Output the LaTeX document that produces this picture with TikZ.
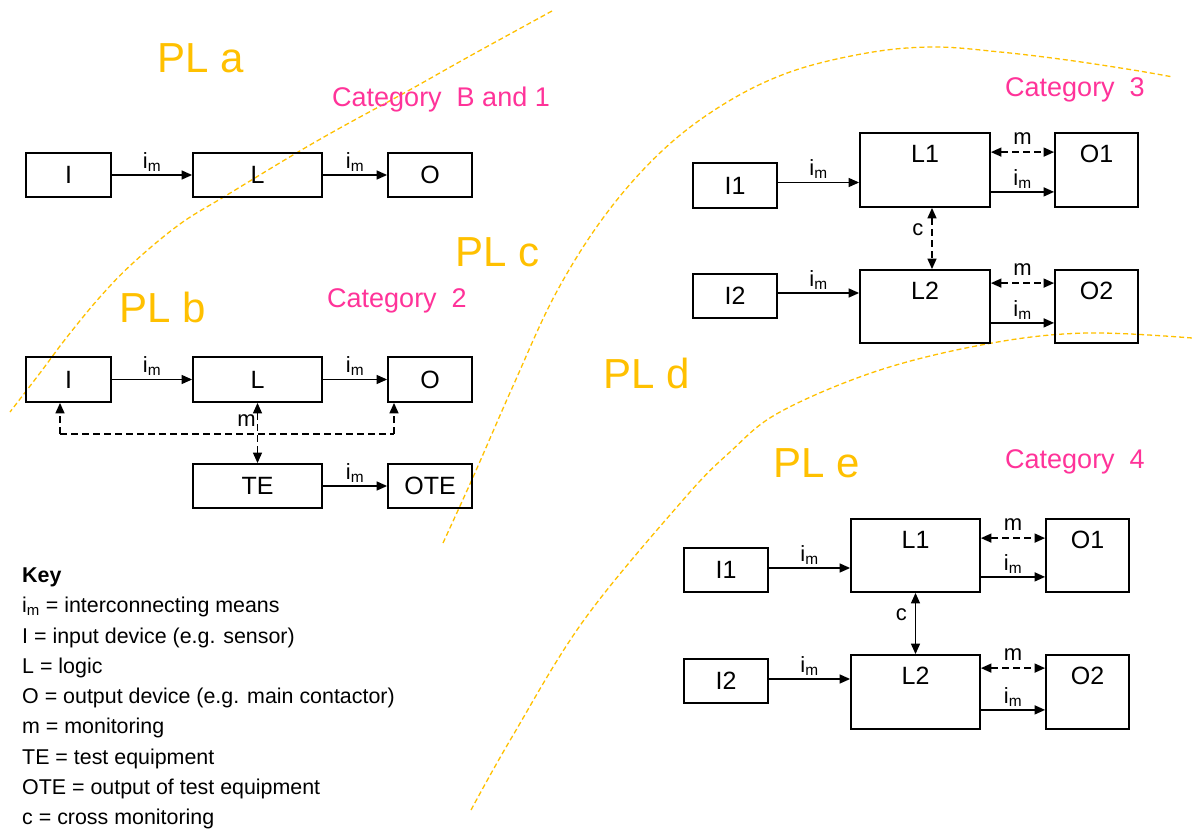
\documentclass[tikz,border=0pt]{standalone}
\usepackage{fontspec}
\setmainfont{Liberation Sans}
\usetikzlibrary{arrows.meta}

\definecolor{plgold}{HTML}{FFC000}
\definecolor{catpink}{HTML}{FF3399}

\newcommand\plfont{\fontsize{42}{48}\selectfont}
\newcommand\catfont{\fontsize{27}{32}\selectfont}
\newcommand\boxfont{\fontsize{25}{30}\selectfont}
\newcommand\lblfont{\fontsize{22}{26}\selectfont}
\newcommand\keyfont{\fontsize{21.4}{26}\selectfont}
\newcommand\imtxt{i\textsubscript{m}}

\tikzset{
  tip/.tip={Triangle[length=10.5pt,width=9pt]},
  box/.style={draw, line width=1.8pt, inner sep=0pt, font=\boxfont},
  topbox/.style={box, label={[font=\boxfont, anchor=center, yshift=-22pt]north:#1}},
  arr/.style={line width=1.5pt, -tip},
  darr/.style={line width=1.5pt, dash pattern=on 7pt off 4pt, tip-tip},
  sarr/.style={line width=1.5pt, tip-tip},
  uarr/.style={line width=1.5pt, dash pattern=on 7pt off 4pt, -tip},
  mon/.style={line width=1.5pt, dash pattern=on 7pt off 4pt},
  lbl/.style={font=\lblfont, inner sep=3pt},
  pltext/.style={text=plgold, font=\plfont, anchor=base west, inner sep=0pt},
  cattext/.style={text=catpink, font=\catfont, anchor=base west, inner sep=0pt},
  keyline/.style={font=\keyfont, anchor=base west, inner sep=0pt},
  pldash/.style={draw=plgold, line width=1.3pt, dash pattern=on 5pt off 3pt}
}

\begin{document}
\begin{tikzpicture}[x=1pt, y=-1pt]
\useasboundingbox (0,0) rectangle (1192,832);

% performance level boundaries
\draw[pldash] plot[smooth, tension=0.6] coordinates {
  (552,11) (470,56) (406,92) (340,128) (293,155) (227,195) (180,224)
  (133,263) (100,297) (67,337) (40,373) (10,412)};
\draw[pldash] plot[smooth, tension=0.6] coordinates {
  (443,543) (474,475) (513,386) (556,293) (606,214) (663,150) (724,104)
  (790,72) (867,53) (933,47) (1000,52) (1067,60) (1133,70) (1173,77)};
\draw[pldash] plot[smooth, tension=0.6] coordinates {
  (471,810) (512,737) (584,620) (683,500) (730,452) (780,412) (880,370)
  (992,343) (1087,333) (1192,338)};

% performance level and category captions
\node[pltext] (pla) at (157,73) {PL a};
\node[pltext] (plb) at (119,322) {PL b};
\node[pltext] (plc) at (455,266) {PL c};
\node[pltext] (pld) at (603,388) {PL d};
\node[pltext] (ple) at (773,477) {PL e};
\node[cattext] (catB) at (332,107) {Category~~B and 1};
\node[cattext] (cat2) at (327,307) {Category~~2};
\node[cattext] (cat3) at (1005,97) {Category~~3};
\node[cattext] (cat4) at (1005,468) {Category~~4};

% Category B and 1
\node[box, minimum width=85pt, minimum height=44pt] (aI) at (68.5,175) {I};
\node[box, minimum width=129pt, minimum height=44pt] (aL) at (257.5,175) {L};
\node[box, minimum width=84pt, minimum height=44pt] (aO) at (430,175) {O};
\draw[arr] (aI) -- node[lbl, above] {\imtxt} (aL);
\draw[arr] (aL) -- node[lbl, above] {\imtxt} (aO);

% Category 2
\node[box, minimum width=85pt, minimum height=45pt] (bI) at (68.5,379.5) {I};
\node[box, minimum width=129pt, minimum height=45pt] (bL) at (257.5,379.5) {L};
\node[box, minimum width=84pt, minimum height=45pt] (bO) at (430,379.5) {O};
\node[box, minimum width=129pt, minimum height=44pt] (bTE) at (257.5,486) {TE};
\node[box, minimum width=84pt, minimum height=44pt] (bOTE) at (430,486) {OTE};
\draw[arr] (bI) -- node[lbl, above] {\imtxt} (bL);
\draw[arr] (bL) -- node[lbl, above] {\imtxt} (bO);
\draw[arr] (bTE) -- node[lbl, above] {\imtxt} (bOTE);
\coordinate (bmL) at (60,434);
\coordinate (bmR) at (394,434);
\draw[mon] (bmL) -- (bmR);
\draw[uarr] (bmL) -- (bmL |- bI.south);
\draw[uarr] (bmR) -- (bmR |- bO.south);
\draw[darr] (bL) -- node[lbl, left, pos=0.3, inner sep=1pt] {m} (bTE);

% Category 3
\node[box, minimum width=84pt, minimum height=45pt] (c3I1) at (735,185.5) {I1};
\node[topbox=L1, minimum width=130pt, minimum height=74pt] (c3L1) at (925,170) {};
\node[topbox=O1, minimum width=83pt, minimum height=74pt] (c3O1) at (1096.5,170) {};
\node[box, minimum width=84pt, minimum height=44pt] (c3I2) at (735,296) {I2};
\node[topbox=L2, minimum width=130pt, minimum height=73pt] (c3L2) at (925,306.5) {};
\node[topbox=O2, minimum width=83pt, minimum height=73pt] (c3O2) at (1096.5,306.5) {};
\draw[arr] ([yshift=3pt]c3I1.east) -- node[lbl, above] {\imtxt} ([yshift=3pt]c3I1.east -| c3L1.west);
\draw[darr] ([yshift=-20pt]c3L1.north east) -- node[lbl, above=4pt] {m} ([yshift=-20pt]c3L1.north east -| c3O1.west);
\draw[arr] ([yshift=16pt]c3L1.south east) -- node[lbl, above] {\imtxt} ([yshift=16pt]c3L1.south east -| c3O1.west);
\draw[darr] ([xshift=7pt]c3L1.south) -- node[lbl, left, pos=0.35, inner sep=8pt] {c} ([xshift=7pt]c3L2.north);
\draw[arr] ([yshift=3pt]c3I2.east) -- node[lbl, above] {\imtxt} ([yshift=3pt]c3I2.east -| c3L2.west);
\draw[darr] ([yshift=-14pt]c3L2.north east) -- node[lbl, above=4pt] {m} ([yshift=-14pt]c3L2.north east -| c3O2.west);
\draw[arr] ([yshift=21pt]c3L2.south east) -- node[lbl, above] {\imtxt} ([yshift=21pt]c3L2.south east -| c3O2.west);

% Category 4
\node[box, minimum width=84pt, minimum height=44pt] (c4I1) at (726,570) {I1};
\node[topbox=L1, minimum width=129pt, minimum height=73pt] (c4L1) at (915.5,555.5) {};
\node[topbox=O1, minimum width=83pt, minimum height=73pt] (c4O1) at (1087.5,555.5) {};
\node[box, minimum width=84pt, minimum height=44pt] (c4I2) at (726,681) {I2};
\node[topbox=L2, minimum width=129pt, minimum height=74pt] (c4L2) at (915.5,692) {};
\node[topbox=O2, minimum width=83pt, minimum height=74pt] (c4O2) at (1087.5,692) {};
\draw[arr] ([yshift=2pt]c4I1.east) -- node[lbl, above] {\imtxt} ([yshift=2pt]c4I1.east -| c4L1.west);
\draw[darr] ([yshift=-20pt]c4L1.north east) -- node[lbl, above=4pt] {m} ([yshift=-20pt]c4L1.north east -| c4O1.west);
\draw[arr] ([yshift=16pt]c4L1.south east) -- node[lbl, above] {\imtxt} ([yshift=16pt]c4L1.south east -| c4O1.west);
\draw[sarr] (c4L1) -- node[lbl, left, pos=0.35, inner sep=8pt] {c} (c4L2);
\draw[arr] ([yshift=2pt]c4I2.east) -- node[lbl, above] {\imtxt} ([yshift=2pt]c4I2.east -| c4L2.west);
\draw[darr] ([yshift=-14pt]c4L2.north east) -- node[lbl, above=4pt] {m} ([yshift=-14pt]c4L2.north east -| c4O2.west);
\draw[arr] ([yshift=20pt]c4L2.south east) -- node[lbl, above] {\imtxt} ([yshift=20pt]c4L2.south east -| c4O2.west);

% key
\node[keyline] (key0) at (22,582) {\textbf{Key}};
\node[keyline] (key1) at (22,612) {\imtxt{} = interconnecting means};
\node[keyline] (key2) at (22,643) {I = input device (e.g. sensor)};
\node[keyline] (key3) at (22,673) {L = logic};
\node[keyline] (key4) at (22,703) {O = output device (e.g. main contactor)};
\node[keyline] (key5) at (22,733) {m = monitoring};
\node[keyline] (key6) at (22,764) {TE = test equipment};
\node[keyline] (key7) at (22,794) {OTE = output of test equipment};
\node[keyline] (key8) at (22,824) {c = cross monitoring};
\end{tikzpicture}
\end{document}
